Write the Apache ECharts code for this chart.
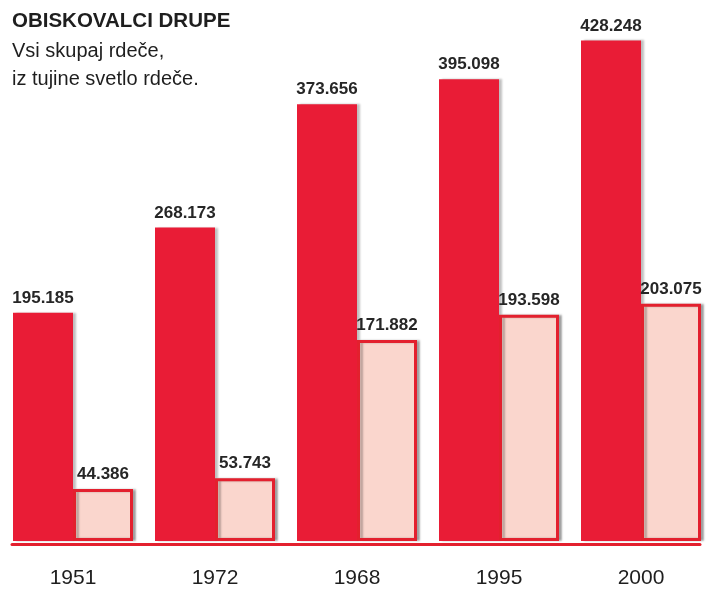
<!DOCTYPE html>
<html lang="sl">
<head>
    <meta charset="UTF-8">
    <title>Obiskovalci Drupe</title>
    <script type="text/javascript" src="https://cdn.jsdelivr.net/npm/echarts@6/dist/echarts.min.js"></script>
    <style>
        html, body { margin: 0; padding: 0; background: #fff; }
        #chart { width: 717px; height: 589px; }
    </style>
</head>
<body>
<div id="chart"></div>
<script type="text/javascript">
    // leta in obiskovalci (v tisocih)
    var years = ['1951', '1972', '1968', '1995', '2000'];
    var skupaj = [195.185, 268.173, 373.656, 395.098, 428.248];
    var tujci = [44.386, 53.743, 171.882, 193.598, 203.075];

    var chart = echarts.init(document.getElementById('chart'));
    var labelStyle = {
        show: true,
        position: 'top',
        distance: 6,
        color: '#262626',
        fontFamily: 'Liberation Sans',
        fontWeight: 'bold',
        fontSize: 17,
        formatter: function (p) { return p.value.toFixed(3); }
    };

    var option = {
        animation: false,
        title: {
            text: 'OBISKOVALCI DRUPE',
            subtext: 'Vsi skupaj rdeče,\niz tujine svetlo rdeče.',
            left: 12,
            top: 11,
            padding: 0,
            itemGap: 5,
            textStyle: { fontFamily: 'Liberation Sans', fontWeight: 'bold', fontSize: 20.5, color: '#1e1e1e' },
            subtextStyle: { fontFamily: 'Liberation Sans', fontSize: 20, lineHeight: 28, color: '#1e1e1e' }
        },
        grid: [
            { left: 2, right: 5, top: 15, bottom: 45 },
            { left: 12, right: 17, top: 15, bottom: 45 }
        ],
        xAxis: [{
            type: 'category',
            data: years,
            gridIndex: 0,
            axisLine: { show: false },
            axisTick: { show: false },
            axisLabel: { margin: 27, fontFamily: 'Liberation Sans', fontSize: 21, color: '#1e1e1e' }
        }, {
            type: 'value',
            gridIndex: 1,
            axisLine: { show: true, onZero: false, lineStyle: { color: '#e3202e', width: 3 } },
            axisTick: { show: false },
            axisLabel: { show: false },
            splitLine: { show: false }
        }],
        yAxis: [{
            type: 'value',
            gridIndex: 0,
            min: 0,
            max: 450,
            show: false
        }, {
            type: 'value',
            gridIndex: 1,
            show: false
        }],
        series: [{
            name: 'Vsi skupaj',
            type: 'bar',
            data: skupaj,
            barWidth: 60,
            barGap: '0%',
            itemStyle: {
                color: '#e91c36',
                shadowColor: 'rgba(0,0,0,0.25)',
                shadowOffsetX: 3,
                shadowBlur: 2
            },
            label: labelStyle
        }, {
            name: 'Iz tujine',
            type: 'bar',
            data: tujci,
            barWidth: 60,
            itemStyle: {
                color: '#fad6cd',
                borderColor: '#e3202e',
                borderWidth: 3,
                shadowColor: 'rgba(0,0,0,0.25)',
                shadowOffsetX: 3,
                shadowBlur: 2
            },
            label: labelStyle
        }]
    };
    chart.setOption(option);
</script>
</body>
</html>
